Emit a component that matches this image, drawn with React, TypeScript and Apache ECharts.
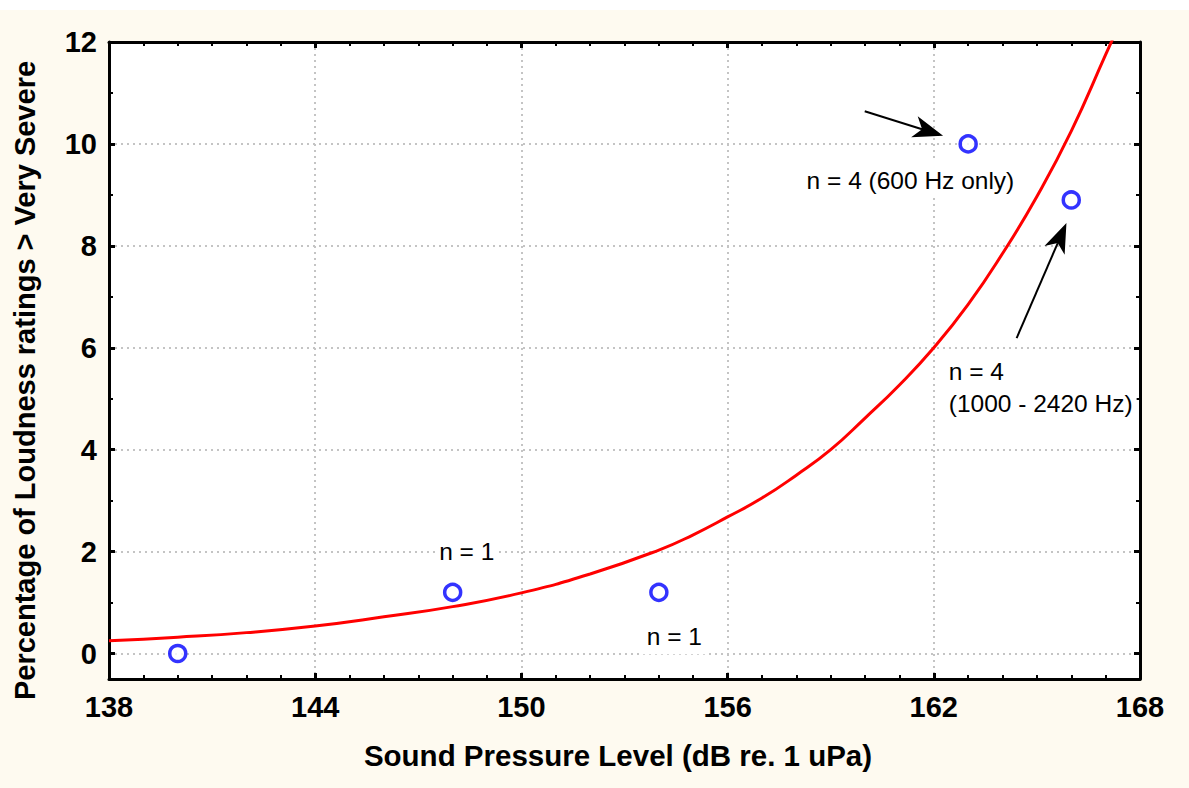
import React, { useEffect, useRef } from "react";
import * as echarts from "echarts";

// Observed data points
const pointX = [140, 148, 154, 163, 166];
const pointY = [0, 1.2, 1.2, 10, 8.9];

// Fitted curve
const curveX = [138, 140, 142, 144, 146, 148, 150, 152, 154, 155, 156, 157, 158, 159, 160, 161, 162, 163, 164, 165, 166, 167, 167.2];
const curveY = [0.25, 0.32, 0.41, 0.54, 0.72, 0.92, 1.19, 1.56, 2.03, 2.33, 2.68, 3.05, 3.5, 4.0, 4.62, 5.27, 6.0, 6.85, 7.85, 8.97, 10.25, 11.75, 12.05];

// Axis ranges
const xMin = 138;
const xMax = 168;
const xStep = 6;
const yMin = -0.5;
const yMax = 12;

// Annotations (data coordinates)
const noteText = ["n = 4 (600 Hz only)", "n = 4\n(1000 - 2420 Hz)", "n = 1", "n = 1"];
const noteX = [161.32, 162.32, 148.41, 154.45];
const noteY = [9.29, 5.22, 2.0, 0.34];
const noteAlign = ["center", "left", "center", "center"];

// Arrows: start -> tip (data coordinates)
const arrowFrom = [[159.99, 10.64], [164.41, 6.19]];
const arrowTo = [[162.27, 10.16], [165.86, 8.45]];

const FONT = 'Arial, "Liberation Sans", Helvetica, sans-serif';

export default function App() {
  const ref = useRef<HTMLDivElement>(null);

  useEffect(() => {
    if (!ref.current) return;
    const chart = echarts.init(ref.current, null, { renderer: "svg" });

    const tickCommon = {
      axisLine: { show: true, onZero: false, lineStyle: { color: "#000", width: 3 } },
      axisTick: { show: true, inside: true, length: 6, lineStyle: { color: "#000", width: 3 } },
    };
    const gridLine = {
      show: true,
      showMinLine: false,
      showMaxLine: false,
      lineStyle: { color: "#c4c4c4", width: 2, type: [2, 4] },
    };
    const labelStyle = { color: "#000", fontSize: 29, fontWeight: "bold", fontFamily: FONT };

    const xBase = {
      type: "value",
      min: xMin,
      max: xMax,
      interval: xStep,
      ...tickCommon,
      minorTick: { show: true, splitNumber: 6, length: 4, lineStyle: { color: "#000", width: 2 } },
    };
    const yBase = {
      type: "value",
      min: yMin,
      max: yMax,
      splitNumber: 6,
      ...tickCommon,
      minorTick: { show: true, splitNumber: 2, length: 4, lineStyle: { color: "#000", width: 2 } },
    };

    chart.setOption({
      animation: false,
      backgroundColor: "#FEFAF0",
      grid: {
        left: 109,
        right: 49,
        top: 42,
        bottom: 109,
        show: true,
        backgroundColor: "#ffffff",
        borderWidth: 0,
      },
      xAxis: [
        {
          ...xBase,
          position: "bottom",
          axisLabel: { ...labelStyle, margin: 13 },
          splitLine: gridLine,
          name: "Sound Pressure Level (dB re. 1 uPa)",
          nameLocation: "middle",
          nameGap: 61,
          nameTextStyle: { ...labelStyle, fontSize: 29.5, padding: [0, 13, 0, 0] },
        },
        {
          ...xBase,
          position: "top",
          axisLabel: { show: false },
          splitLine: { show: false },
        },
      ],
      yAxis: [
        {
          ...yBase,
          position: "left",
          axisLabel: {
            ...labelStyle,
            margin: 12,
            formatter: (v: number) => (v < 0 ? "" : String(v)),
          },
          splitLine: gridLine,
          name: "Percentage of Loudness ratings > Very Severe",
          nameLocation: "middle",
          nameGap: 70,
          nameTextStyle: { ...labelStyle, padding: [0, 40, 0, 0] },
        },
        {
          ...yBase,
          position: "right",
          axisLabel: { show: false },
          splitLine: { show: false },
        },
      ],
      series: [
        {
          type: "line",
          xAxisIndex: 0,
          yAxisIndex: 0,
          data: curveX.map((x, i) => [x, curveY[i]]),
          showSymbol: false,
          smooth: 0.5,
          lineStyle: { color: "#ff0000", width: 3 },
          z: 2,
        },
        {
          type: "scatter",
          xAxisIndex: 0,
          yAxisIndex: 0,
          data: pointX.map((x, i) => [x, pointY[i]]),
          symbol: "circle",
          symbolSize: 16,
          itemStyle: { color: "#ffffff", borderColor: "#0000ff", borderWidth: 3.5 },
          z: 3,
        },
      ],
    });

    const toPx = (p: number[]) =>
      chart.convertToPixel({ xAxisIndex: 0, yAxisIndex: 0 }, p) as number[];

    const graphics: any[] = [
      {
        type: "rect",
        shape: { x: 0, y: 0, width: 1189, height: 10 },
        style: { fill: "#ffffff" },
        silent: true,
        z: 0,
      },
    ];

    noteText.forEach((t, i) => {
      const [px, py] = toPx([noteX[i], noteY[i]]);
      graphics.push({
        type: "text",
        x: px,
        y: py,
        z: 10,
        style: {
          text: t,
          font: `24.5px ${FONT}`,
          fill: "#000",
          align: noteAlign[i],
          textAlign: noteAlign[i],
          verticalAlign: "middle",
          textVerticalAlign: "middle",
          lineHeight: 32,
          backgroundColor: "#ffffff",
          padding: [2, 4],
        },
      });
    });

    arrowFrom.forEach((s, i) => {
      const S = toPx(s);
      const T = toPx(arrowTo[i]);
      const dx = T[0] - S[0];
      const dy = T[1] - S[1];
      const len = Math.hypot(dx, dy);
      const ux = dx / len;
      const uy = dy / len;
      const px = -uy;
      const py = ux;
      const L = 30;
      const W = 11;
      const N = 8;
      const back = [T[0] - (L - N) * ux, T[1] - (L - N) * uy];
      graphics.push({
        type: "line",
        z: 11,
        shape: { x1: S[0], y1: S[1], x2: back[0], y2: back[1] },
        style: { stroke: "#000", lineWidth: 2 },
      });
      graphics.push({
        type: "polygon",
        z: 11,
        shape: {
          points: [
            [T[0], T[1]],
            [T[0] - L * ux + W * px, T[1] - L * uy + W * py],
            back,
            [T[0] - L * ux - W * px, T[1] - L * uy - W * py],
          ],
        },
        style: { fill: "#000" },
      });
    });

    chart.setOption({ graphic: graphics });

    return () => chart.dispose();
  }, []);

  return (
    <div
      ref={ref}
      style={{ position: "absolute", left: 0, top: 0, width: 1189, height: 788 }}
    />
  );
}
